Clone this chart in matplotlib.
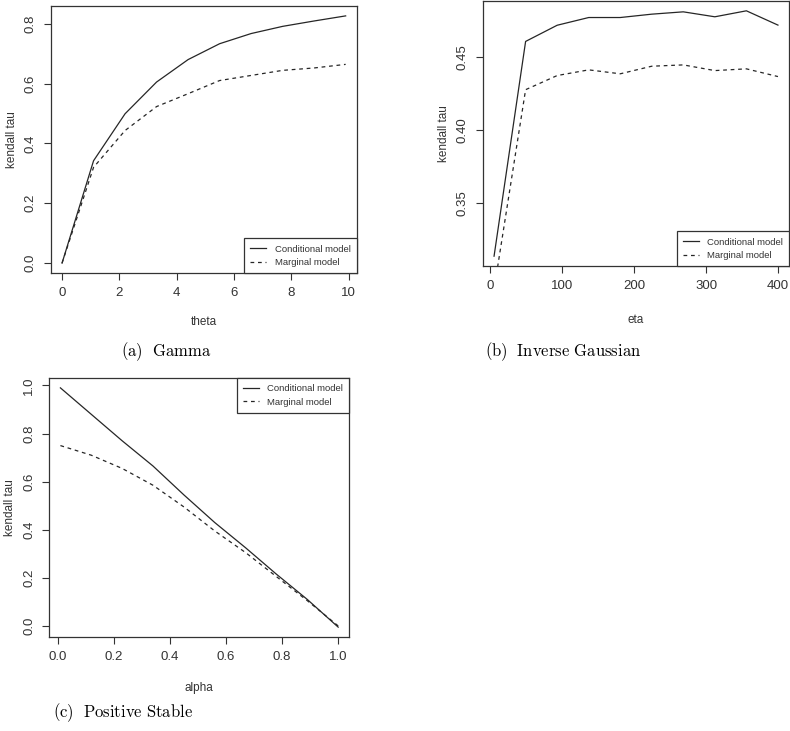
import matplotlib
matplotlib.use("Agg")
import matplotlib.pyplot as plt

plt.rcParams['font.family'] = ['Liberation Sans', 'DejaVu Sans']
plt.rcParams['mathtext.fontset'] = 'cm'

# ---- data ----
theta = [0.0, 1.1, 2.2, 3.3, 4.4, 5.5, 6.6, 7.7, 8.8, 9.9]
gamma_cond = [0.0, 0.342, 0.499, 0.605, 0.680, 0.733, 0.767, 0.791, 0.809, 0.826]
gamma_marg = [0.0, 0.320, 0.443, 0.523, 0.566, 0.610, 0.627, 0.644, 0.652, 0.664]

eta = [5.0, 48.9, 92.8, 136.7, 180.6, 224.4, 268.3, 312.2, 356.1, 400.0]
ig_cond = [0.3136, 0.4609, 0.4720, 0.4773, 0.4773, 0.4796, 0.4812, 0.4778, 0.4819, 0.4721]
ig_marg = [0.2908, 0.4278, 0.4375, 0.4414, 0.4387, 0.4439, 0.4448, 0.4409, 0.4421, 0.4368]

alpha = [0.01, 0.12, 0.23, 0.34, 0.45, 0.56, 0.67, 0.78, 0.89, 1.0]
ps_cond = [0.99, 0.88, 0.77, 0.665, 0.545, 0.43, 0.325, 0.215, 0.11, -0.005]
ps_marg = [0.75, 0.71, 0.655, 0.585, 0.495, 0.395, 0.305, 0.205, 0.105, 0.0]

legend_labels = ["Conditional model", "Marginal model"]
captions = [r"$\mathrm{(a)\ \ Gamma}$", r"$\mathrm{(b)\ \ Inverse\ Gaussian}$",
            r"$\mathrm{(c)\ \ Positive\ Stable}$"]

W, H = 790, 731
fig = plt.figure(figsize=(W / 100, H / 100), dpi=100)

def axrect(l, r, t, b):
    return [l / W, 1 - b / H, (r - l) / W, (b - t) / H]

col = '#262626'
gray = '#333333'

def rlim(vals):
    lo, hi = min(vals), max(vals)
    d = 0.04 * (hi - lo)
    return lo - d, hi + d

def style(ax, xt, yt, xfmt, yfmt, xlabel, xpad=12):
    for s in ax.spines.values():
        s.set_color(gray)
        s.set_linewidth(0.9)
    ax.set_xticks(xt)
    ax.set_xticklabels([xfmt(v) for v in xt])
    ax.set_yticks(yt)
    ax.set_yticklabels([yfmt(v) for v in yt], rotation=90, va='center')
    ax.tick_params(direction='out', length=5, width=0.8, colors=gray,
                   labelcolor=gray, labelsize=9.5, pad=5)
    ax.set_xlabel(xlabel, fontsize=8.5, color=gray, labelpad=xpad)
    ax.set_ylabel("kendall tau", fontsize=8.5, color=gray, labelpad=5)

def draw(ax, x, c, m, loc, ylim_from_cond=False):
    l1, = ax.plot(x, c, color=col, lw=0.9)
    l2, = ax.plot(x, m, color=col, lw=0.9, dashes=(3, 3))
    ax.set_xlim(*rlim(x))
    if ylim_from_cond:
        ax.set_ylim(*rlim(c))
    else:
        ax.set_ylim(*rlim(list(c) + list(m)))
    leg = ax.legend([l1, l2], legend_labels, loc=loc, borderaxespad=0,
                    fancybox=False, fontsize=6.8, handlelength=1.7,
                    handletextpad=0.9, borderpad=0.65, labelspacing=0.45,
                    framealpha=1)
    leg.get_frame().set_edgecolor(gray)
    leg.get_frame().set_linewidth(0.9)
    for t in leg.get_texts():
        t.set_color(gray)

# (a)
ax1 = fig.add_axes(axrect(50.7, 357, 6, 273))
draw(ax1, theta, gamma_cond, gamma_marg, 'lower right')
style(ax1, [0, 2, 4, 6, 8, 10], [0.0, 0.2, 0.4, 0.6, 0.8],
      lambda v: f"{v:d}", lambda v: f"{v:.1f}", "theta")

# (b)
ax2 = fig.add_axes(axrect(482.7, 789.3, 1, 266))
draw(ax2, eta, ig_cond, ig_marg, 'lower right', ylim_from_cond=True)
style(ax2, [0, 100, 200, 300, 400], [0.35, 0.40, 0.45],
      lambda v: f"{v:d}", lambda v: f"{v:.2f}", "eta", xpad=16)

# (c)
ax3 = fig.add_axes(axrect(49.3, 349.3, 378.3, 636.7))
draw(ax3, alpha, ps_cond, ps_marg, 'upper right')
style(ax3, [0.0, 0.2, 0.4, 0.6, 0.8, 1.0], [0.0, 0.2, 0.4, 0.6, 0.8, 1.0],
      lambda v: f"{v:.1f}", lambda v: f"{v:.1f}", "alpha", xpad=14)

fig.text(166 / W, 1 - 352 / H, captions[0], ha='center', va='center', fontsize=12)
fig.text(563 / W, 1 - 352 / H, captions[1], ha='center', va='center', fontsize=12)
fig.text(123 / W, 1 - 713 / H, captions[2], ha='center', va='center', fontsize=12)

fig.savefig("out.png", dpi=100)
